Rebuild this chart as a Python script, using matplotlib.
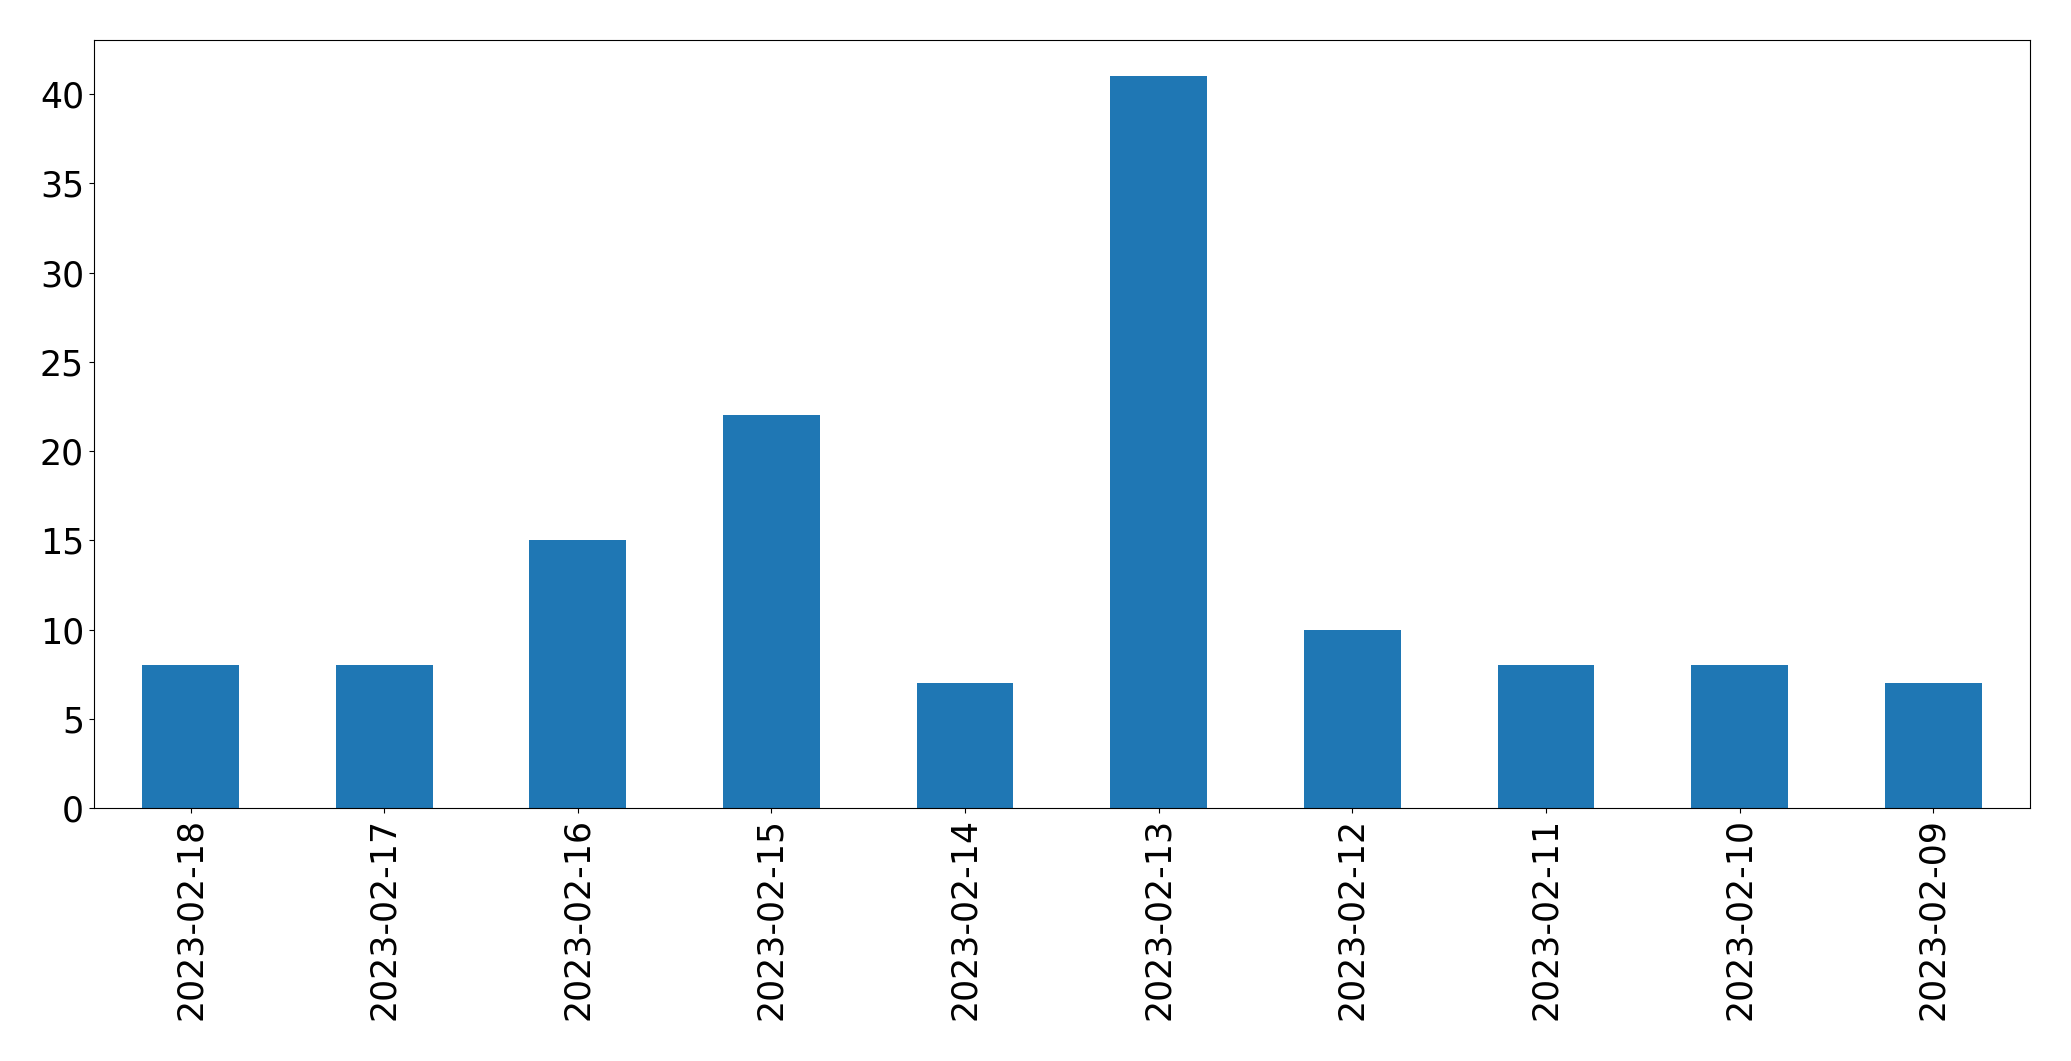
import matplotlib
matplotlib.use("Agg")
import matplotlib.pyplot as plt
import numpy as np

dates = ["2023-02-18", "2023-02-17", "2023-02-16", "2023-02-15", "2023-02-14",
         "2023-02-13", "2023-02-12", "2023-02-11", "2023-02-10", "2023-02-09"]
counts = [8, 8, 15, 22, 7, 41, 10, 8, 8, 7]

fig = plt.figure(figsize=(20.71, 10.61), dpi=100)
ax = fig.add_axes([93.8/2071, 1-808/1061, (2030-93.8)/2071, (808-39.6)/1061])
x = np.arange(len(dates))
ax.bar(x, counts, width=0.5, color="#1f77b4")
ax.set_xlim(-0.5, len(dates)-0.5)
ax.set_ylim(0, max(counts)*1.05)
ax.set_xticks(x)
ax.set_xticklabels(dates, rotation=90)
ax.tick_params(labelsize=25)
fig.savefig("out.png", dpi=100)
